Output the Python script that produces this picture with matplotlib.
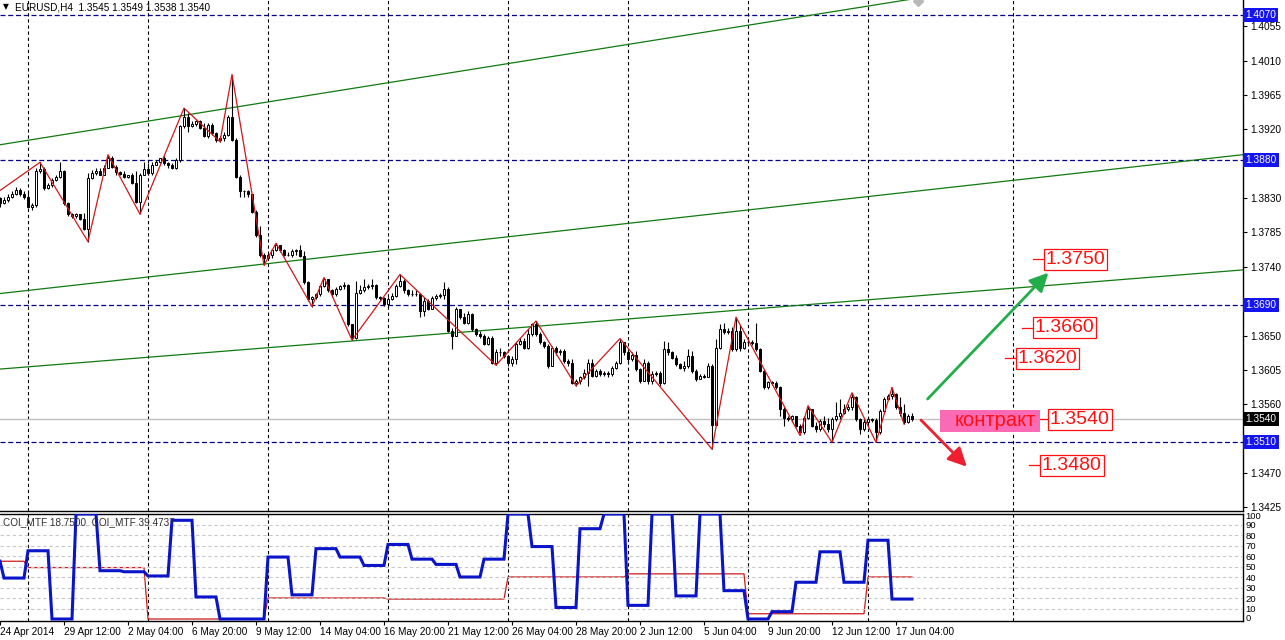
import numpy as np
import matplotlib
matplotlib.use('Agg')
import matplotlib.pyplot as plt
from matplotlib.patches import Rectangle
from matplotlib.transforms import blended_transform_factory

plt.rcParams['font.family'] = ['Liberation Sans', 'DejaVu Sans']

# ---------------- data ----------------
title_text = "EURUSD,H4  1.3545 1.3549 1.3538 1.3540"
first_open = 1.3830

closes = [1.3823, 1.3828, 1.3832, 1.3836, 1.3841, 1.3835, 1.3831, 1.3819, 1.3821, 1.3865,
          1.3868, 1.3843, 1.3847, 1.3854, 1.3858, 1.3865, 1.3823, 1.3809, 1.3807, 1.3809,
          1.3803, 1.3790, 1.3856, 1.3863, 1.3866, 1.3861, 1.3870, 1.3883, 1.3871, 1.3864,
          1.3862, 1.3858, 1.3860, 1.3850, 1.3825, 1.3860, 1.3868, 1.3863, 1.3874, 1.3878,
          1.3882, 1.3876, 1.3873, 1.3870, 1.3880, 1.3924, 1.3937, 1.3924, 1.3927, 1.3931,
          1.3922, 1.3911, 1.3926, 1.3915, 1.3906, 1.3909, 1.3913, 1.3937, 1.3906, 1.3858,
          1.3839, 1.3840, 1.3835, 1.3812, 1.3782, 1.3755, 1.3751, 1.3755, 1.3762, 1.3768,
          1.3762, 1.3755, 1.3756, 1.3761, 1.3762, 1.3754, 1.3720, 1.3698, 1.3700, 1.3704,
          1.3715, 1.3724, 1.3709, 1.3704, 1.3711, 1.3715, 1.3716, 1.3665, 1.3647, 1.3706,
          1.3709, 1.3713, 1.3715, 1.3716, 1.3700, 1.3699, 1.3691, 1.3698, 1.3702, 1.3715,
          1.3722, 1.3709, 1.3704, 1.3705, 1.3704, 1.3682, 1.3695, 1.3685, 1.3699, 1.3702,
          1.3703, 1.3711, 1.3656, 1.3650, 1.3685, 1.3674, 1.3667, 1.3678, 1.3658, 1.3652,
          1.3650, 1.3639, 1.3647, 1.3614, 1.3628, 1.3629, 1.3623, 1.3614, 1.3619, 1.3639,
          1.3643, 1.3634, 1.3652, 1.3665, 1.3652, 1.3641, 1.3636, 1.3610, 1.3634, 1.3628,
          1.3630, 1.3617, 1.3614, 1.3588, 1.3590, 1.3595, 1.3601, 1.3614, 1.3597, 1.3603,
          1.3599, 1.3601, 1.3600, 1.3608, 1.3614, 1.3641, 1.3628, 1.3619, 1.3625, 1.3606,
          1.3591, 1.3614, 1.3590, 1.3599, 1.3601, 1.3588, 1.3632, 1.3628, 1.3621, 1.3612,
          1.3608, 1.3610, 1.3623, 1.3603, 1.3593, 1.3597, 1.3596, 1.3610, 1.3533, 1.3634,
          1.3658, 1.3654, 1.3656, 1.3632, 1.3656, 1.3634, 1.3641, 1.3642, 1.3640, 1.3632,
          1.3604, 1.3582, 1.3589, 1.3588, 1.3582, 1.3554, 1.3542, 1.3541, 1.3544, 1.3532,
          1.3523, 1.3542, 1.3554, 1.3532, 1.3527, 1.3538, 1.3534, 1.3527, 1.3540, 1.3544,
          1.3549, 1.3554, 1.3556, 1.3569, 1.3540, 1.3527, 1.3537, 1.3540, 1.3539, 1.3523,
          1.3551, 1.3567, 1.3571, 1.3573, 1.3556, 1.3549, 1.3536, 1.3545, 1.3540]

highs = [1.3832, 1.3831, 1.3835, 1.3839, 1.3844, 1.3843, 1.3839, 1.3839, 1.3823, 1.3869,
         1.3877, 1.3871, 1.3850, 1.3857, 1.3861, 1.3877, 1.3867, 1.3825, 1.3810, 1.3810,
         1.3809, 1.3810, 1.3863, 1.3867, 1.3869, 1.3869, 1.3873, 1.3887, 1.3885, 1.3873,
         1.3866, 1.3866, 1.3861, 1.3863, 1.3865, 1.3863, 1.3878, 1.3876, 1.3878, 1.3880,
         1.3883, 1.3885, 1.3878, 1.3876, 1.3882, 1.3926, 1.3948, 1.3942, 1.3931, 1.3933,
         1.3933, 1.3928, 1.3928, 1.3928, 1.3917, 1.3911, 1.3917, 1.3939, 1.3992, 1.3909,
         1.3860, 1.3841, 1.3841, 1.3836, 1.3814, 1.3793, 1.3758, 1.3758, 1.3764, 1.3771,
         1.3769, 1.3764, 1.3759, 1.3763, 1.3764, 1.3768, 1.3761, 1.3722, 1.3702, 1.3706,
         1.3716, 1.3726, 1.3724, 1.3711, 1.3713, 1.3716, 1.3720, 1.3718, 1.3665, 1.3722,
         1.3716, 1.3724, 1.3718, 1.3724, 1.3718, 1.3702, 1.3700, 1.3700, 1.3706, 1.3718,
         1.3730, 1.3724, 1.3711, 1.3709, 1.3709, 1.3706, 1.3700, 1.3698, 1.3702, 1.3704,
         1.3706, 1.3720, 1.3713, 1.3660, 1.3687, 1.3685, 1.3680, 1.3682, 1.3680, 1.3660,
         1.3656, 1.3652, 1.3650, 1.3650, 1.3632, 1.3634, 1.3630, 1.3625, 1.3623, 1.3641,
         1.3647, 1.3647, 1.3658, 1.3667, 1.3669, 1.3654, 1.3643, 1.3639, 1.3636, 1.3636,
         1.3632, 1.3632, 1.3619, 1.3619, 1.3593, 1.3597, 1.3606, 1.3619, 1.3619, 1.3606,
         1.3606, 1.3603, 1.3604, 1.3610, 1.3617, 1.3646, 1.3640, 1.3630, 1.3628, 1.3630,
         1.3608, 1.3619, 1.3617, 1.3603, 1.3603, 1.3603, 1.3643, 1.3641, 1.3630, 1.3625,
         1.3614, 1.3617, 1.3632, 1.3630, 1.3606, 1.3599, 1.3599, 1.3614, 1.3612, 1.3645,
         1.3665, 1.3667, 1.3660, 1.3661, 1.3674, 1.3664, 1.3645, 1.3647, 1.3644, 1.3667,
         1.3634, 1.3606, 1.3591, 1.3591, 1.3590, 1.3584, 1.3556, 1.3545, 1.3546, 1.3545,
         1.3534, 1.3545, 1.3558, 1.3549, 1.3536, 1.3541, 1.3545, 1.3542, 1.3543, 1.3563,
         1.3567, 1.3560, 1.3560, 1.3575, 1.3571, 1.3542, 1.3540, 1.3543, 1.3542, 1.3542,
         1.3554, 1.3569, 1.3573, 1.3582, 1.3575, 1.3569, 1.3560, 1.3547, 1.3549]

lows = [1.3819, 1.3822, 1.3825, 1.3830, 1.3834, 1.3833, 1.3829, 1.3817, 1.3814, 1.3819,
        1.3863, 1.3841, 1.3842, 1.3845, 1.3853, 1.3856, 1.3821, 1.3806, 1.3804, 1.3804,
        1.3801, 1.3788, 1.3773, 1.3855, 1.3860, 1.3860, 1.3860, 1.3869, 1.3869, 1.3861,
        1.3860, 1.3857, 1.3857, 1.3848, 1.3823, 1.3809, 1.3860, 1.3861, 1.3860, 1.3873,
        1.3876, 1.3874, 1.3870, 1.3868, 1.3868, 1.3878, 1.3922, 1.3917, 1.3923, 1.3925,
        1.3921, 1.3910, 1.3909, 1.3913, 1.3904, 1.3904, 1.3905, 1.3911, 1.3905, 1.3857,
        1.3831, 1.3831, 1.3832, 1.3811, 1.3779, 1.3753, 1.3742, 1.3749, 1.3751, 1.3761,
        1.3760, 1.3754, 1.3754, 1.3753, 1.3755, 1.3753, 1.3718, 1.3695, 1.3688, 1.3698,
        1.3702, 1.3713, 1.3707, 1.3700, 1.3702, 1.3709, 1.3711, 1.3663, 1.3644, 1.3645,
        1.3704, 1.3707, 1.3711, 1.3711, 1.3698, 1.3696, 1.3689, 1.3688, 1.3697, 1.3700,
        1.3713, 1.3706, 1.3702, 1.3702, 1.3702, 1.3674, 1.3676, 1.3683, 1.3685, 1.3697,
        1.3699, 1.3698, 1.3654, 1.3632, 1.3650, 1.3672, 1.3665, 1.3665, 1.3656, 1.3650,
        1.3647, 1.3637, 1.3637, 1.3612, 1.3611, 1.3623, 1.3621, 1.3610, 1.3610, 1.3612,
        1.3637, 1.3632, 1.3632, 1.3650, 1.3650, 1.3639, 1.3634, 1.3608, 1.3610, 1.3625,
        1.3625, 1.3614, 1.3610, 1.3586, 1.3584, 1.3586, 1.3593, 1.3584, 1.3595, 1.3595,
        1.3597, 1.3597, 1.3595, 1.3597, 1.3606, 1.3612, 1.3625, 1.3614, 1.3617, 1.3603,
        1.3588, 1.3590, 1.3586, 1.3586, 1.3597, 1.3584, 1.3586, 1.3625, 1.3619, 1.3610,
        1.3606, 1.3603, 1.3608, 1.3601, 1.3591, 1.3593, 1.3594, 1.3595, 1.3501, 1.3533,
        1.3632, 1.3652, 1.3652, 1.3630, 1.3630, 1.3630, 1.3632, 1.3639, 1.3637, 1.3630,
        1.3602, 1.3580, 1.3580, 1.3585, 1.3580, 1.3545, 1.3532, 1.3538, 1.3536, 1.3530,
        1.3519, 1.3521, 1.3540, 1.3530, 1.3523, 1.3525, 1.3530, 1.3523, 1.3510, 1.3538,
        1.3540, 1.3547, 1.3551, 1.3552, 1.3538, 1.3521, 1.3525, 1.3535, 1.3536, 1.3510,
        1.3521, 1.3549, 1.3565, 1.3567, 1.3554, 1.3545, 1.3534, 1.3535, 1.3538]

zigzag_bars = [0, 10, 22, 27, 35, 46, 55, 58, 66, 69, 78, 81, 88, 100, 124, 134, 144,
               155, 178, 184, 200, 202, 208, 213, 219, 223, 226]
zigzag_prices = [1.3840, 1.3877, 1.3773, 1.3887, 1.3809, 1.3948, 1.3904, 1.3992, 1.3742,
                 1.3771, 1.3688, 1.3726, 1.3644, 1.3730, 1.3611, 1.3669, 1.3584, 1.3646,
                 1.3501, 1.3674, 1.3519, 1.3558, 1.3510, 1.3575, 1.3510, 1.3582, 1.3534]

# trend lines: (bar0, price0, bar1, price1)
trend_lines = [(0, 1.3900, 240, 1.4101),
               (0, 1.3705, 310.75, 1.3887),
               (0, 1.3606, 310.75, 1.3736)]

hline_levels = [1.4070, 1.3880, 1.3690, 1.3510]
bid_price = 1.3540
price_ticks = [1.4055, 1.4010, 1.3965, 1.3920, 1.3875, 1.3830, 1.3785, 1.3740,
               1.3695, 1.3650, 1.3605, 1.3560, 1.3515, 1.3470, 1.3425]

week_grid_bars = [7, 37, 67, 97, 127, 157, 187, 217, 253.25]

time_tick_bars = [0, 16, 32, 48, 64, 80, 96, 112, 128, 144, 160, 176, 192, 208, 224]
time_tick_labels = ['24 Apr 2014', '29 Apr 12:00', '2 May 04:00', '6 May 20:00',
                    '9 May 12:00', '14 May 04:00', '16 May 20:00', '21 May 12:00',
                    '26 May 04:00', '28 May 20:00', '2 Jun 12:00', '5 Jun 04:00',
                    '9 Jun 20:00', '12 Jun 12:00', '17 Jun 04:00']

# COI_MTF indicator (daily and weekly values, with their lengths in H4 bars)
coi_fast_values = [55, 39, 65, 0, 100, 46, 45, 41, 94, 21, 0, 0, 59, 23, 67, 59, 51, 71,
                   57, 52, 40, 57, 100, 69, 11, 86, 100, 13, 100, 22, 100, 27, 0, 7, 35,
                   64, 35, 75, 19]
coi_fast_lengths = [1] + [6] * 38
coi_slow_values = [55, 49, 0, 20, 19, 40, 43, 5, 40]
coi_slow_lengths = [7, 30, 30, 30, 30, 30, 30, 30, 12]
coi_title = "COI_MTF 18.7500  COI_MTF 39.4737"
coi_levels = [10, 20, 30, 40, 50, 60, 70, 80, 90]

# forecast annotations
target_levels = [1.3750, 1.3660, 1.3620, 1.3540, 1.3480]
target_bars = [258.25, 255.5, 251.25, 259.25, 257.25]
contract_text = "контракт"
contract_box = (235, 1.35235, 25, 0.00288)   # bar, price, width (bars), height (price)
contract_text_pos = (248.75, 1.3538)
green_arrow = ((231.9, 1.35668), (262.1, 1.37323))
red_arrow = ((230.25, 1.35392), (241.7, 1.34781))

# ---------------- figure ----------------
W, H = 1285, 640
fig = plt.figure(figsize=(W / 100, H / 100), dpi=100)
ax = fig.add_axes([0, (H - 511) / H, 1243 / W, 511 / H])
ax2 = fig.add_axes([0, (H - 621) / H, 1243 / W, 107 / H])

n = len(closes)
bars = np.arange(n)
opens = np.array([first_open] + closes[:-1])
closes_a = np.array(closes)
highs_a = np.array(highs)
lows_a = np.array(lows)

XMAX = 310.75
ax.set_xlim(0, XMAX)
ax.set_ylim(1.3420, 1.40897)

grid_dash = (0, (3, 2.5))
for gx in week_grid_bars:
    ax.axvline(gx, color='black', lw=0.8, ls=grid_dash, zorder=1)
    ax2.axvline(gx, color='black', lw=0.8, ls=grid_dash, zorder=1)

for lv in hline_levels:
    ax.axhline(lv, color='#00008b', lw=0.9, ls=(0, (4, 2.2)), zorder=1)
ax.axhline(bid_price, color='#c0c0c0', lw=1.0, zorder=1)

for b0, p0, b1, p1 in trend_lines:
    ax.plot([b0, b1], [p0, p1], color='#107a10', lw=0.9, zorder=2)

# candles
ax.vlines(bars, lows_a, highs_a, color='black', lw=0.8, zorder=3)
body_bottom = np.minimum(opens, closes_a)
body_h = np.abs(closes_a - opens)
face = ['white' if c > o else 'black' for o, c in zip(opens, closes_a)]
ax.bar(bars, body_h, bottom=body_bottom, width=0.72, color=face,
       edgecolor='black', linewidth=0.7, zorder=4)

ax.plot(zigzag_bars, zigzag_prices, color='#d01818', lw=0.9, zorder=5)

ax.plot([229.5], [1.4089], marker='D', ms=5, color='#b8b8b8', zorder=5)

# annotations
for lvl, bx in zip(target_levels, target_bars):
    ax.plot([bx, bx + 2.75], [lvl, lvl], color='#ff1010', lw=0.9, zorder=6)
    ax.text(bx + 3.2, lvl, f'{lvl:.4f}', color='#ff1010', fontsize=14, ha='left',
            va='center', zorder=7,
            bbox=dict(boxstyle='square,pad=0.1', fc='white', ec='#ff1010', lw=0.9))

cb, cp, cw, ch = contract_box
ax.add_patch(Rectangle((cb, cp), cw, ch, facecolor='#fb6bb5', edgecolor='none', zorder=6))
ax.text(contract_text_pos[0], contract_text_pos[1], contract_text, color='#ff1010',
        fontsize=14.5, ha='center', va='center', zorder=7)

for (s, t), col in [(green_arrow, '#22ad4a'), (red_arrow, '#ee2030')]:
    ax.annotate('', xy=t, xytext=s, zorder=8,
                arrowprops=dict(arrowstyle='-|>,head_length=0.8,head_width=0.4',
                                color=col, lw=2.0, shrinkA=0, shrinkB=0, mutation_scale=14))

# right price axis (labels hidden behind the level boxes are left blank)
covered = {1.3875, 1.3695, 1.3515}
ax.yaxis.tick_right()
ax.set_yticks(price_ticks)
ax.set_yticklabels(['' if p in covered else f'{p:.4f}' for p in price_ticks])
ax.tick_params(axis='y', direction='out', length=3, width=0.8, pad=2, labelsize=7.3,
               colors='black')
ax.set_xticks([])
for sp in ['left', 'top']:
    ax.spines[sp].set_visible(False)
for sp in ['right', 'bottom']:
    ax.spines[sp].set_linewidth(1.0)

trans = blended_transform_factory(ax.transAxes, ax.transData)
for lv in hline_levels:
    ax.text(1.0 + 2.5 / 1243, lv, f'{lv:.4f}', transform=trans, color='white', fontsize=7.3,
            ha='left', va='center', clip_on=False, zorder=20,
            bbox=dict(boxstyle='square,pad=0.2', fc='#1414f0', ec='none'))
ax.text(1.0 + 2.5 / 1243, bid_price, f'{bid_price:.4f}', transform=trans, color='white',
        fontsize=7.3, ha='left', va='center', clip_on=False, zorder=20,
        bbox=dict(boxstyle='square,pad=0.2', fc='black', ec='none'))

ax.text(3 / 1243, 1 - 7 / 511, '▼', transform=ax.transAxes, fontsize=5.5,
        family='DejaVu Sans', va='center', ha='left')
ax.text(15 / 1243, 1 - 7 / 511, title_text, transform=ax.transAxes, fontsize=7.2,
        va='center', ha='left')

# indicator panel
ax2.set_xlim(0, XMAX)
ax2.set_ylim(-1.9, 100)
for lv in coi_levels:
    ax2.axhline(lv, color='#c8c8c8', lw=0.8, ls=(0, (3, 2.5)), zorder=3)
fast = np.repeat(coi_fast_values, coi_fast_lengths)
slow = np.repeat(coi_slow_values, coi_slow_lengths)
ax2.plot(bars, slow, color='#cc1a1a', lw=0.9, zorder=2)
ax2.plot(bars, fast, color='#0a14c8', lw=2.2, zorder=4, solid_joinstyle='miter')
ax2.text(3 / 1243, (621 - 522) / 107, coi_title, transform=ax2.transAxes, fontsize=7.2,
         color='#303030', va='center', ha='left', zorder=6)

ax2.yaxis.tick_right()
ind_tick_pos = [1.5, 10, 20, 30, 40, 50, 60, 70, 80, 90, 98.5]
ind_tick_lab = ['0', '10', '20', '30', '40', '50', '60', '70', '80', '90', '100']
ax2.set_yticks(ind_tick_pos)
ax2.set_yticklabels(ind_tick_lab)
ax2.tick_params(axis='y', length=0, pad=2, labelsize=6.8)
ax2.set_xticks(time_tick_bars)
ax2.set_xticklabels(time_tick_labels)
for lab in ax2.get_xticklabels():
    lab.set_horizontalalignment('left')
ax2.tick_params(axis='x', direction='out', length=3, width=0.8, pad=1.5, labelsize=7.2)
ax2.spines['left'].set_visible(False)
for sp in ['right', 'bottom', 'top']:
    ax2.spines[sp].set_linewidth(1.0)

fig.savefig('out.png', dpi=100, facecolor='white')
